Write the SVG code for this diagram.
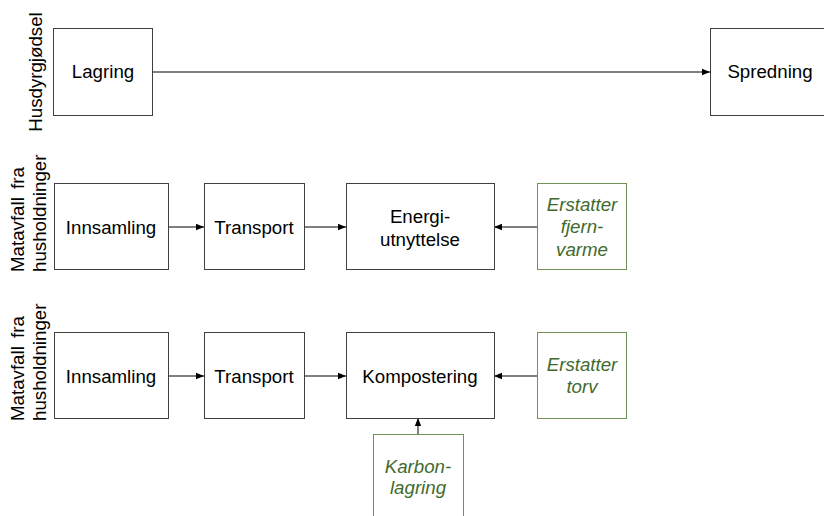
<svg xmlns="http://www.w3.org/2000/svg" width="824" height="516" viewBox="0 0 824 516">
<style>
.box{fill:#fff;stroke:#404040;stroke-width:1}
.gbox{fill:#fff;stroke:#6f9356;stroke-width:1}
.t{font-family:"Liberation Sans",Arial,sans-serif;font-size:18.7px;fill:#000;text-anchor:middle}
.g{font-family:"Liberation Sans",Arial,sans-serif;font-size:18.7px;fill:#416b2c;font-style:italic;text-anchor:middle}
.r{font-family:"Liberation Sans",Arial,sans-serif;font-size:18.7px;fill:#000}
.c{stroke:#000;stroke-width:1;fill:none;marker-end:url(#ah)}
</style>
<defs>
<marker id="ah" viewBox="0 0 10 10" refX="10" refY="5" markerWidth="8" markerHeight="8" markerUnits="userSpaceOnUse" orient="auto">
<path d="M0,1 L10,5 L0,9 Z" fill="#000"/>
</marker>
</defs>
<rect width="824" height="516" fill="#fff"/>
<g id="labels">
<text class="r" transform="translate(42,72) rotate(-90)" text-anchor="middle">Husdyrgjødsel</text>
<text class="r" transform="translate(24,272) rotate(-90)" word-spacing="3">Matavfall fra</text>
<text class="r" transform="translate(46,272) rotate(-90)">husholdninger</text>
<text class="r" transform="translate(24,421) rotate(-90)" word-spacing="3">Matavfall fra</text>
<text class="r" transform="translate(46,421) rotate(-90)">husholdninger</text>
</g>
<g id="connectors">
<line class="c" x1="152" y1="72" x2="710" y2="72"/>
<line class="c" x1="168" y1="227" x2="204" y2="227"/>
<line class="c" x1="304" y1="227" x2="346" y2="227"/>
<line class="c" x1="537" y1="227" x2="494" y2="227"/>
<line class="c" x1="168" y1="376" x2="204" y2="376"/>
<line class="c" x1="304" y1="376" x2="346" y2="376"/>
<line class="c" x1="537" y1="376" x2="494" y2="376"/>
<line class="c" x1="418" y1="434" x2="418" y2="418"/>
</g>
<g id="lagring"><rect class="box" x="53.5" y="28.5" width="99" height="87"/><text class="t" x="103" y="78">Lagring</text></g>
<g id="spredning"><rect class="box" x="710.5" y="28.5" width="120" height="87"/><text class="t" x="770" y="78">Spredning</text></g>
<g id="innsamling1"><rect class="box" x="54.5" y="183.5" width="114" height="86"/><text class="t" x="111" y="234">Innsamling</text></g>
<g id="transport1"><rect class="box" x="204.5" y="183.5" width="100" height="86"/><text class="t" x="254" y="234">Transport</text></g>
<g id="energi"><rect class="box" x="346.5" y="183.5" width="148" height="86"/><text class="t" x="420" y="223">Energi-</text><text class="t" x="420" y="246">utnyttelse</text></g>
<g id="fjernvarme"><rect class="gbox" x="537.5" y="183.5" width="89" height="86"/><text class="g" x="582" y="211">Erstatter</text><text class="g" x="582" y="233">fjern-</text><text class="g" x="582" y="256">varme</text></g>
<g id="innsamling2"><rect class="box" x="54.5" y="332.5" width="114" height="86"/><text class="t" x="111" y="383">Innsamling</text></g>
<g id="transport2"><rect class="box" x="204.5" y="332.5" width="100" height="86"/><text class="t" x="254" y="383">Transport</text></g>
<g id="kompostering"><rect class="box" x="346.5" y="332.5" width="148" height="86"/><text class="t" x="420" y="383">Kompostering</text></g>
<g id="torv"><rect class="gbox" x="537.5" y="332.5" width="89" height="86"/><text class="g" x="582" y="371">Erstatter</text><text class="g" x="582" y="393">torv</text></g>
<g id="karbon"><rect class="gbox" x="373.5" y="434.5" width="90" height="90"/><text class="g" x="418" y="473">Karbon-</text><text class="g" x="418" y="494">lagring</text></g>
</svg>
